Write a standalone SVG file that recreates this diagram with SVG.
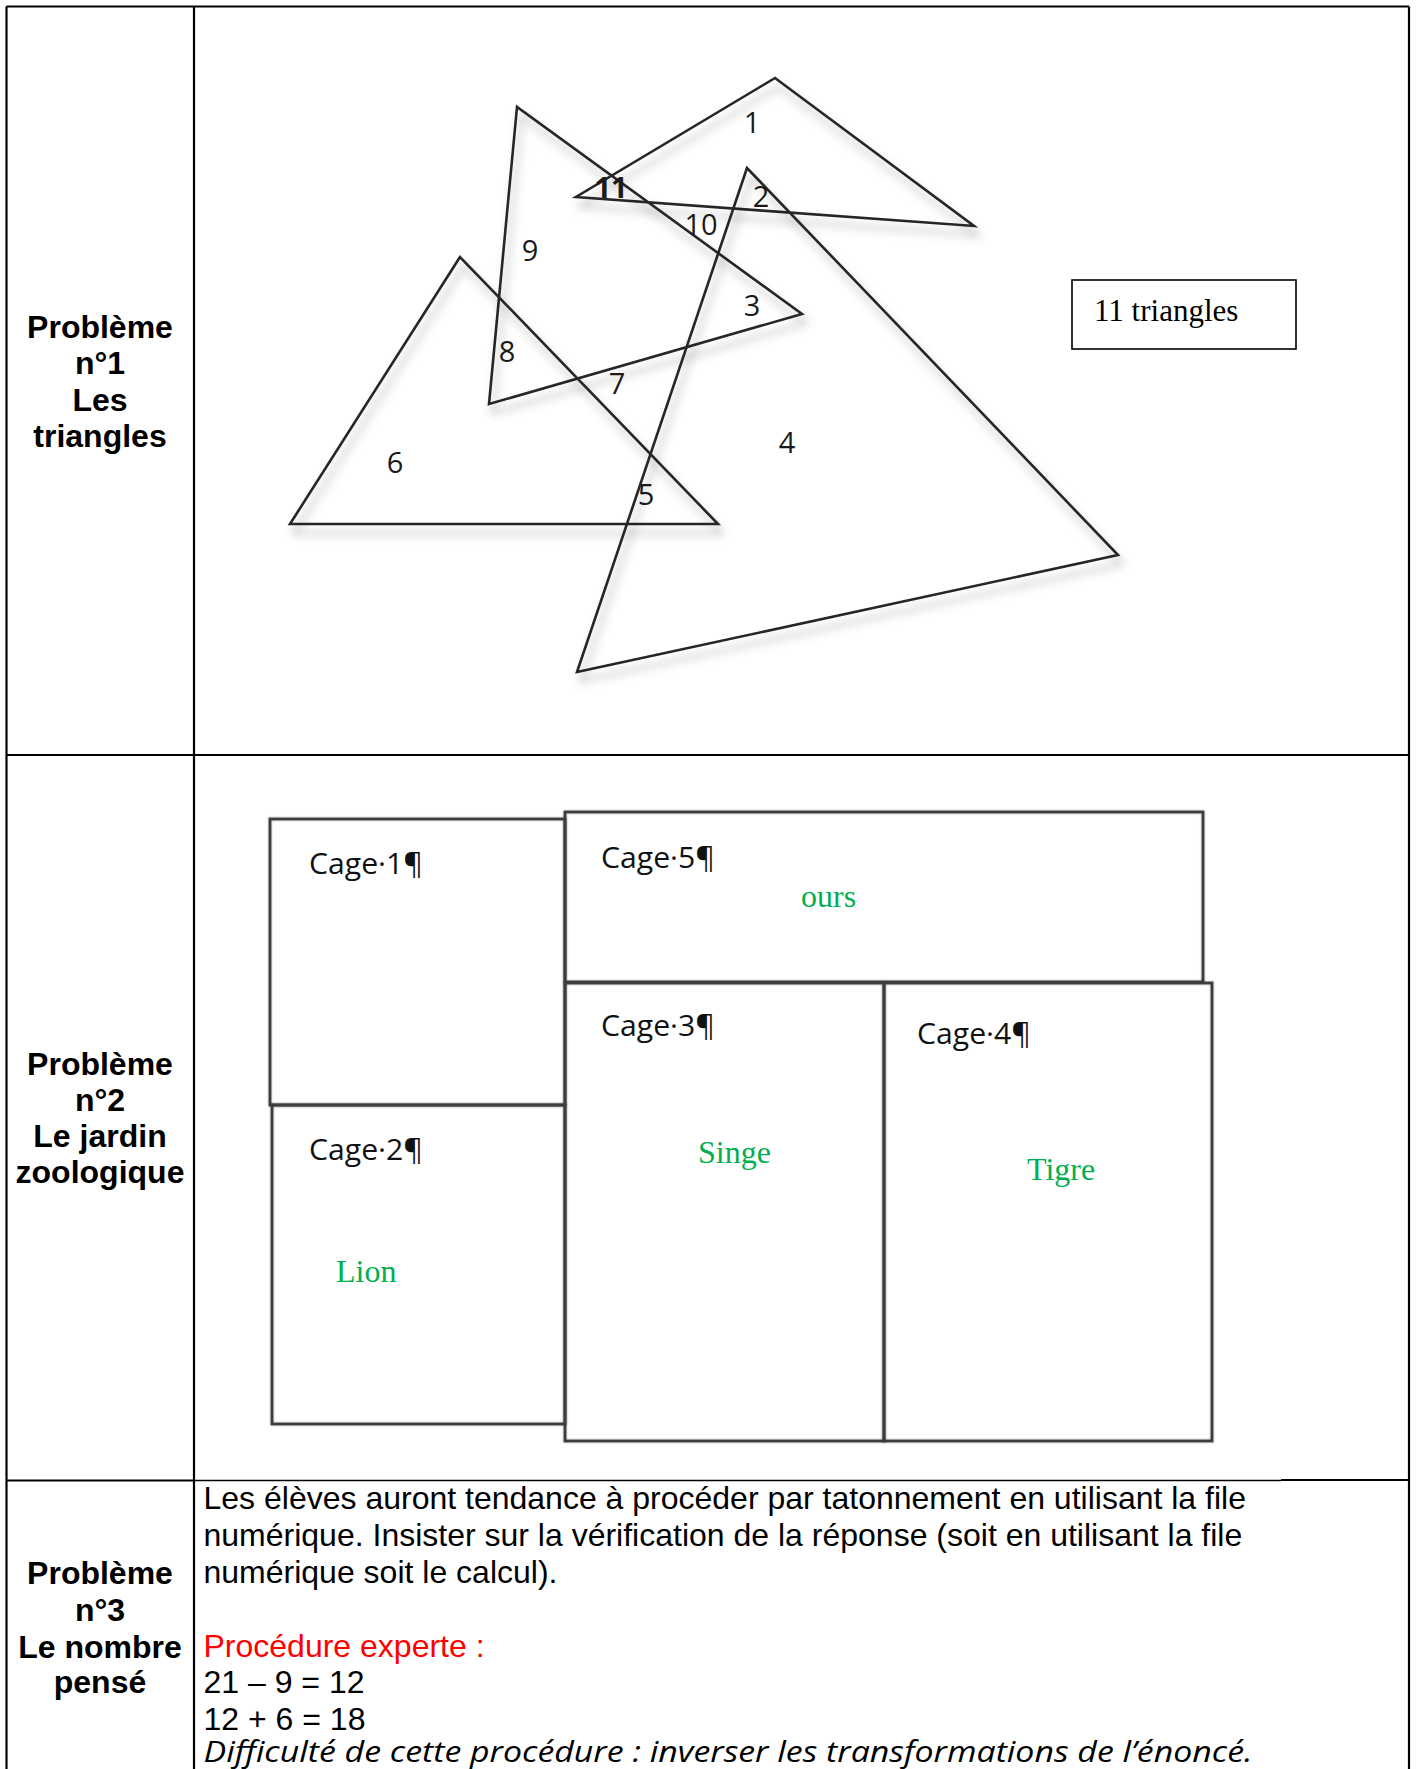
<svg xmlns="http://www.w3.org/2000/svg" width="1416" height="1769" viewBox="0 0 1416 1769">
<defs>
<style>
.grid{stroke:#000;stroke-width:2.2;fill:none}
.thin{stroke:#000;stroke-width:1.3;fill:none}
.lbl{font-family:"Liberation Sans",Arial,sans-serif;font-weight:bold;font-size:32px;fill:#000;text-anchor:middle}
.tri{fill:none;stroke:#262626;stroke-width:2.6;stroke-linejoin:miter}
.num{font-family:"Open Sans","Noto Sans",sans-serif;font-size:29px;fill:#1a1a1a;text-anchor:middle}
.cage{fill:none;stroke:#3c3c3c;stroke-width:2.8}
.ctxt{font-family:"Open Sans","Noto Sans",sans-serif;font-size:30px;fill:#111}
.grn{font-family:"Liberation Serif","Times New Roman",serif;font-size:32px;fill:#00B050}
.body{font-family:"Liberation Sans",Arial,sans-serif;font-size:32px;fill:#000}
.red{fill:#FF0000}
</style>
<filter id="sh" x="-20%" y="-20%" width="140%" height="150%">
<feDropShadow dx="4" dy="9" stdDeviation="5" flood-color="#000" flood-opacity="0.3"/>
</filter>
<filter id="sh2" x="-5%" y="-5%" width="110%" height="110%">
<feDropShadow dx="0" dy="0" stdDeviation="1" flood-color="#000" flood-opacity="0.35"/>
</filter>
</defs>
<rect width="1416" height="1769" fill="#fff"/>

<g id="table">
<line class="grid" x1="6.5" y1="6.5" x2="1409" y2="6.5"/>
<line class="grid" x1="6.5" y1="6.5" x2="6.5" y2="1769"/>
<line class="grid" x1="1409" y1="6.5" x2="1409" y2="1769"/>
<line class="grid" x1="194" y1="6.5" x2="194" y2="1769"/>
<line class="grid" x1="6.5" y1="755" x2="1409" y2="755"/>
<line class="grid" x1="6.5" y1="1480.5" x2="194" y2="1480.5"/>
<line class="thin" x1="194" y1="1480.5" x2="1281" y2="1480.5"/>
<line class="grid" x1="1281" y1="1480" x2="1409" y2="1480"/>
</g>

<g id="labels">
<text class="lbl"><tspan x="100" y="337.5">Problème</tspan><tspan x="100" y="374">n°1</tspan><tspan x="100" y="411">Les</tspan><tspan x="100" y="447">triangles</tspan></text>
<text class="lbl"><tspan x="100" y="1074.5">Problème</tspan><tspan x="100" y="1110.5">n°2</tspan><tspan x="100" y="1147">Le jardin</tspan><tspan x="100" y="1183">zoologique</tspan></text>
<text class="lbl"><tspan x="100" y="1584">Problème</tspan><tspan x="100" y="1620.5">n°3</tspan><tspan x="100" y="1657.5">Le nombre</tspan><tspan x="100" y="1693">pensé</tspan></text>
</g>

<g id="triangles">
<polygon class="tri" filter="url(#sh)" points="775,78 576,197 974,226"/>
<polygon class="tri" filter="url(#sh)" points="517,107 489,404 802,314"/>
<polygon class="tri" filter="url(#sh)" points="460,257 290,524 718,524"/>
<polygon class="tri" filter="url(#sh)" points="747,168 577,672 1118,555"/>
<text class="num" x="752" y="133">1</text>
<text class="num" x="611" y="198" font-weight="bold">11</text>
<text class="num" x="761" y="207">2</text>
<text class="num" x="701" y="235">10</text>
<text class="num" x="530" y="261">9</text>
<text class="num" x="752" y="316">3</text>
<text class="num" x="507" y="362">8</text>
<text class="num" x="617" y="394">7</text>
<text class="num" x="395" y="473">6</text>
<text class="num" x="646" y="505">5</text>
<text class="num" x="787" y="453">4</text>
</g>

<g id="answer1">
<rect x="1072" y="280" width="224" height="69" fill="#fff" stroke="#000" stroke-width="1.6"/>
<text x="1094" y="321" font-family="Liberation Serif,'Times New Roman',serif" font-size="31" fill="#000">11 triangles</text>
</g>

<g id="cages">
<g id="cage1"><rect class="cage" filter="url(#sh2)" x="270" y="819" width="295" height="286"/><text class="ctxt" x="309" y="874" textLength="114" lengthAdjust="spacingAndGlyphs">Cage·1¶</text></g>
<g id="cage2"><rect class="cage" filter="url(#sh2)" x="272" y="1105" width="293" height="319"/><text class="ctxt" x="309" y="1160" textLength="114" lengthAdjust="spacingAndGlyphs">Cage·2¶</text><text class="grn" x="336" y="1282">Lion</text></g>
<g id="cage5"><rect class="cage" filter="url(#sh2)" x="565" y="812" width="638" height="170"/><text class="ctxt" x="601" y="868" textLength="114" lengthAdjust="spacingAndGlyphs">Cage·5¶</text><text class="grn" x="801" y="907">ours</text></g>
<g id="cage3"><rect class="cage" filter="url(#sh2)" x="565" y="983" width="319" height="458"/><text class="ctxt" x="601" y="1036" textLength="114" lengthAdjust="spacingAndGlyphs">Cage·3¶</text><text class="grn" x="698" y="1163">Singe</text></g>
<g id="cage4"><rect class="cage" filter="url(#sh2)" x="884" y="983" width="328" height="458"/><text class="ctxt" x="917" y="1044" textLength="114" lengthAdjust="spacingAndGlyphs">Cage·4¶</text><text class="grn" x="1027" y="1180">Tigre</text></g>
</g>

<g id="text3">
<text class="body" x="203.5" y="1509">Les élèves auront tendance à procéder par tatonnement en utilisant la file</text>
<text class="body" x="203.5" y="1546">numérique. Insister sur la vérification de la réponse (soit en utilisant la file</text>
<text class="body" x="203.5" y="1583">numérique soit le calcul).</text>
<text class="body red" x="203.5" y="1656.5">Procédure experte :</text>
<text class="body" x="203.5" y="1693">21 – 9 = 12</text>
<text class="body" x="203.5" y="1730">12 + 6 = 18</text>
<text x="203.5" y="1762" font-family="'Open Sans','Noto Sans',sans-serif" font-style="italic" font-size="30" fill="#000" textLength="1049" lengthAdjust="spacingAndGlyphs">Difficulté de cette procédure : inverser les transformations de l’énoncé.</text>
</g>
</svg>
